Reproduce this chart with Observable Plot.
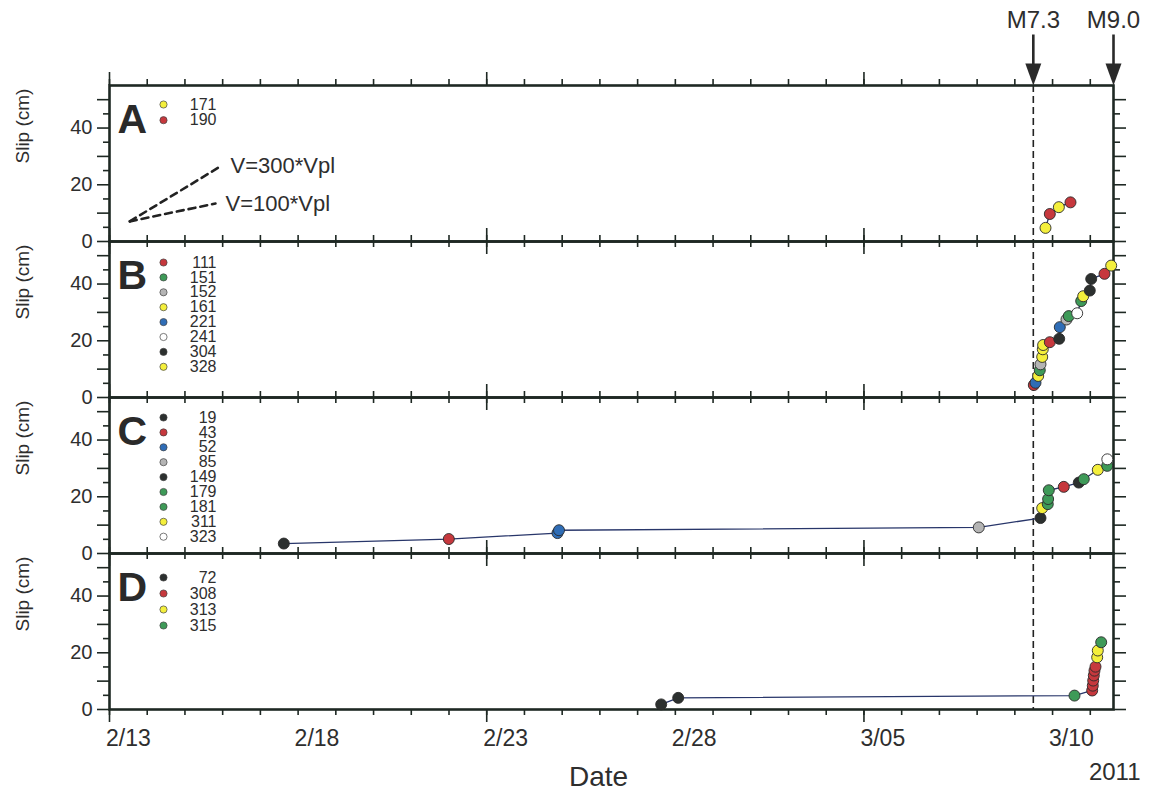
<!DOCTYPE html>
<html><head><meta charset="utf-8">
<script src="https://cdn.jsdelivr.net/npm/d3@7"></script>
<script src="https://cdn.jsdelivr.net/npm/@observablehq/plot@0.6"></script>
<style>body{margin:0;background:#fff;} #chart{width:1161px;height:793px;}</style>
</head><body><div id="chart"></div>
<script>
// ---------- data ----------
const panels = ["A", "B", "C", "D"];
const xDomain = ["2011-02-13T00:00Z", "2011-03-11T14:46Z"];
const yDomain = [0, 55];

const eventNames = ["M7.3", "M9.0"];
const eventTimes = ["2011-03-09T11:45Z", "2011-03-11T14:46Z"];

const xTickLabels = ["2/13", "2/18", "2/23", "2/28", "3/05", "3/10"];
const xTickLabelTimes = ["2011-02-13T12:00Z", "2011-02-18T12:00Z", "2011-02-23T12:00Z", "2011-02-28T12:00Z", "2011-03-05T12:00Z", "2011-03-10T12:00Z"];
const xMajorTicks = ["2011-02-13T00:00Z", "2011-02-23T00:00Z", "2011-03-05T00:00Z"];
const yLabelTicks = [0, 20, 40];
const yMajorTicks = [0, 10, 20, 30, 40, 50];
const yMinorTicks = [5, 15, 25, 35, 45];

const RED = "#c6383d", YEL = "#f4ef3c", GRN = "#3e9a58", GRY = "#b4b4b4", BLU = "#2f6db6", BLK = "#2c302f", WHT = "#ffffff";

// legends (station ids and colours)
const stationsA = ["171", "190"];
const stationColorsA = [YEL, RED];
const stationsB = ["111", "151", "152", "161", "221", "241", "304", "328"];
const stationColorsB = [RED, GRN, GRY, YEL, BLU, WHT, BLK, YEL];
const stationsC = ["19", "43", "52", "85", "149", "179", "181", "311", "323"];
const stationColorsC = [BLK, RED, BLU, GRY, BLK, GRN, GRN, YEL, WHT];
const stationsD = ["72", "308", "313", "315"];
const stationColorsD = [BLK, RED, YEL, GRN];

// slip observations
const timesA = ["2011-03-09T19:30Z", "2011-03-09T22:15Z", "2011-03-10T04:00Z", "2011-03-10T11:24Z"];
const slipA = [4.8, 9.7, 12.1, 13.8];
const stationA = ["171", "190", "171", "190"];

const timesB = ["2011-03-09T12:04Z", "2011-03-09T13:09Z", "2011-03-09T14:51Z", "2011-03-09T15:52Z", "2011-03-09T16:19Z",
  "2011-03-09T17:24Z", "2011-03-09T17:47Z", "2011-03-09T18:00Z", "2011-03-09T22:15Z", "2011-03-10T04:13Z",
  "2011-03-10T04:36Z", "2011-03-10T08:51Z", "2011-03-10T10:19Z", "2011-03-10T15:40Z", "2011-03-10T18:13Z",
  "2011-03-10T19:29Z", "2011-03-10T23:41Z", "2011-03-11T00:35Z", "2011-03-11T09:02Z", "2011-03-11T13:18Z"];
const slipB = [4.4, 5.2, 7.6, 9.6, 11.7, 14.3, 17.0, 18.5, 19.5, 20.7, 24.8, 27.5, 28.7, 29.7, 34.0, 35.7, 37.7, 41.8, 43.6, 46.5];
const stationB = ["111", "221", "161", "151", "152", "161", "328", "161", "111", "304", "221", "152", "151", "241", "151", "328", "304", "304", "111", "328"];

const timesC = ["2011-02-17T14:54Z", "2011-02-21T23:53Z", "2011-02-24T21:01Z", "2011-02-24T21:59Z", "2011-03-08T01:03Z",
  "2011-03-09T16:19Z", "2011-03-09T17:24Z", "2011-03-09T20:57Z", "2011-03-09T21:10Z", "2011-03-09T21:36Z",
  "2011-03-10T07:08Z", "2011-03-10T16:41Z", "2011-03-10T19:52Z", "2011-03-11T04:47Z", "2011-03-11T10:45Z", "2011-03-11T10:50Z"];
const slipC = [3.5, 5.1, 7.2, 8.2, 9.2, 12.5, 16.0, 17.4, 19.2, 22.3, 23.5, 25.0, 26.2, 29.5, 30.9, 33.2];
const stationC = ["19", "43", "52", "52", "85", "149", "311", "179", "181", "179", "43", "149", "181", "311", "179", "323"];

const timesD = ["2011-02-27T15:00Z", "2011-02-28T01:49Z", "2011-03-10T13:57Z", "2011-03-11T01:12Z", "2011-03-11T01:35Z",
  "2011-03-11T01:51Z", "2011-03-11T02:14Z", "2011-03-11T02:40Z", "2011-03-11T03:19Z", "2011-03-11T04:23Z",
  "2011-03-11T04:46Z", "2011-03-11T06:56Z"];
const slipD = [1.8, 4.1, 4.9, 6.7, 8.4, 10.2, 12.0, 13.7, 15.1, 18.4, 20.8, 23.7];
const stationD = ["72", "72", "315", "308", "308", "308", "308", "308", "308", "313", "313", "315"];

// reference slip-rate lines in panel A
const rateNames = ["V=300*Vpl", "V=100*Vpl"];
const rateStartTime = "2011-02-13T12:55Z";
const rateStartSlip = 7.1;
const rateEndTimes = ["2011-02-15T22:38Z", "2011-02-15T19:26Z"];
const rateEndSlips = [26.5, 13.4];

// ---------- build tables ----------
const T = s => new Date(s);
const legendInfo = {
  A: [stationsA, stationColorsA], B: [stationsB, stationColorsB],
  C: [stationsC, stationColorsC], D: [stationsD, stationColorsD]
};
const obs = {A: [timesA, slipA, stationA], B: [timesB, slipB, stationB], C: [timesC, slipC, stationC], D: [timesD, slipD, stationD]};
const points = [];
for (const p of panels) {
  const [ts, ss, st] = obs[p];
  const [ids, cols] = legendInfo[p];
  ts.forEach((t, i) => points.push({panel: p, t: T(t), slip: ss[i], color: cols[ids.indexOf(st[i])]}));
}
const rateLines = [];
rateNames.forEach((n, i) => {
  rateLines.push({name: n, t: T(rateStartTime), slip: rateStartSlip});
  rateLines.push({name: n, t: T(rateEndTimes[i]), slip: rateEndSlips[i]});
});
const rateEnds = rateNames.map((n, i) => ({name: n, t: T(rateEndTimes[i]), slip: rateEndSlips[i]}));
const events = eventNames.map((n, i) => ({name: n, t: T(eventTimes[i])}));
const dayTicks = d3.utcDay.range(T(xDomain[0]), T(xDomain[1]));
const majorTicks = xMajorTicks.map(T);
const labelTimes = xTickLabelTimes.map(T);

// ---------- style ----------
const FRAME = "#1e2823";
const TEXT = "#2e2e2e";
const cmPerPx = (yDomain[1] - yDomain[0]) / 156.25;

const arrowHead = {draw(ctx, size) { const r = Math.sqrt(size / Math.PI); ctx.moveTo(0, 0); ctx.lineTo(-0.8 * r, -2.2 * r); ctx.lineTo(0.8 * r, -2.2 * r); ctx.closePath(); }};
const arrowShaft = {draw(ctx, size) { const r = Math.sqrt(size / Math.PI); ctx.moveTo(0, -2 * r); ctx.lineTo(0, -5.1 * r); }};

const marks = [];
// x ticks on every panel edge
for (const [ticks, len] of [[dayTicks, 6], [majorTicks, 13]]) {
  marks.push(Plot.ruleX(ticks, {x: d => d, y1: yDomain[0], y2: yDomain[0] - len * cmPerPx, stroke: FRAME, strokeWidth: 1.6}));
  marks.push(Plot.ruleX(ticks, {x: d => d, y1: yDomain[1], y2: yDomain[1] + len * cmPerPx, stroke: FRAME, strokeWidth: 1.6}));
}
// y axes
marks.push(Plot.axisY({ticks: yMajorTicks, tickSize: 12, tickPadding: 5, tickFormat: d => yLabelTicks.includes(d) ? String(d) : "", label: null, fontSize: 20, fill: TEXT, stroke: FRAME, strokeWidth: 1.6}));
marks.push(Plot.axisY({ticks: yMinorTicks, tickSize: 6, text: null, label: null, stroke: FRAME, strokeWidth: 1.6}));
marks.push(Plot.axisY({anchor: "right", ticks: yMajorTicks, tickSize: 12, text: null, label: null, stroke: FRAME, strokeWidth: 1.6}));
marks.push(Plot.axisY({anchor: "right", ticks: yMinorTicks, tickSize: 6, text: null, label: null, stroke: FRAME, strokeWidth: 1.6}));
marks.push(Plot.text(["Slip (cm)"], {frameAnchor: "left", dx: -87, rotate: -90, fontSize: 19, fill: TEXT, text: d => d}));
// x labels (bottom panel only)
marks.push(Plot.axisX({anchor: "bottom", ticks: labelTimes, tickSize: 0, tickPadding: 20, fontSize: 23, fill: TEXT, label: null,
  tickFormat: d => xTickLabels[labelTimes.findIndex(t => +t === +d)]}));
marks.push(Plot.text(["Date"], {fy: () => "D", frameAnchor: "bottom", dx: -13, dy: 68, lineAnchor: "middle", fontSize: 28, fill: TEXT, text: d => d}));
marks.push(Plot.text(["2011"], {fy: () => "D", frameAnchor: "bottom-right", dx: 27, dy: 63, lineAnchor: "middle", textAnchor: "end", fontSize: 24, fill: TEXT, text: d => d}));
// M7.3 dashed line
marks.push(Plot.ruleX(events.slice(0, 1), {x: "t", stroke: "#222", strokeWidth: 1.6, strokeDasharray: "7,4"}));
// event arrows and labels
marks.push(Plot.dot(events, {x: "t", fy: () => "A", frameAnchor: "top", symbol: arrowShaft, r: 10, fill: "none", stroke: "#2a2a2a", strokeWidth: 2.6}));
marks.push(Plot.dot(events, {x: "t", fy: () => "A", frameAnchor: "top", symbol: arrowHead, r: 10, fill: "#2a2a2a", stroke: "none"}));
marks.push(Plot.text(events, {x: "t", fy: () => "A", frameAnchor: "top", dy: -65, lineAnchor: "middle", text: "name", fontSize: 24, fill: TEXT}));
// rate lines
marks.push(Plot.line(rateLines, {x: "t", y: "slip", z: "name", fy: () => "A", stroke: "#222", strokeWidth: 2.6, strokeDasharray: "7,5"}));
marks.push(Plot.text(rateEnds, {x: "t", y: "slip", fy: () => "A", text: "name", dx: 10, textAnchor: "start", fontSize: 22, fill: TEXT}));
// frame
marks.push(Plot.frame({stroke: FRAME, strokeWidth: 2.6}));
// panel letters and legends
marks.push(Plot.text(panels, {fy: d => d, text: d => d, frameAnchor: "top-left", dx: 8, dy: 47, lineAnchor: "bottom", textAnchor: "start", fontSize: 41, fontWeight: "bold", fill: "#2a2a2a"}));
const legendTop = {A: 19, B: 21, C: 20, D: 24};
const legendStep = {A: 15.7, B: 14.9, C: 14.9, D: 16};
for (const p of panels) {
  const [ids, cols] = legendInfo[p];
  ids.forEach((id, i) => {
    const dy = legendTop[p] + i * legendStep[p];
    marks.push(Plot.dot([id], {fy: () => p, frameAnchor: "top-left", dx: 54, dy, r: 3.6, fill: cols[i], stroke: "#444", strokeWidth: 0.7}));
    marks.push(Plot.text([id], {fy: () => p, frameAnchor: "top-left", dx: 107, dy, lineAnchor: "middle", text: d => d, textAnchor: "end", fontSize: 16, fill: TEXT}));
  });
}
// observations
marks.push(Plot.line(points, {x: "t", y: "slip", fy: "panel", z: "panel", stroke: "#28366a", strokeWidth: 1.3}));
marks.push(Plot.dot(points, {x: "t", y: "slip", fy: "panel", fill: "color", r: 5.5, stroke: "#2a2a2a", strokeWidth: 0.9}));

const chart = Plot.plot({
  width: 1161, height: 793,
  marginLeft: 109, marginRight: 48, marginTop: 84, marginBottom: 84,
  style: {fontFamily: "'Liberation Sans', Arial, sans-serif", fontSize: "16px", background: "white", overflow: "visible"},
  x: {type: "utc", domain: xDomain.map(T)},
  y: {domain: yDomain},
  fy: {domain: panels, padding: 0, axis: null},
  color: {type: "identity"},
  marks
});
document.getElementById("chart").appendChild(chart);
</script>
</body></html>
